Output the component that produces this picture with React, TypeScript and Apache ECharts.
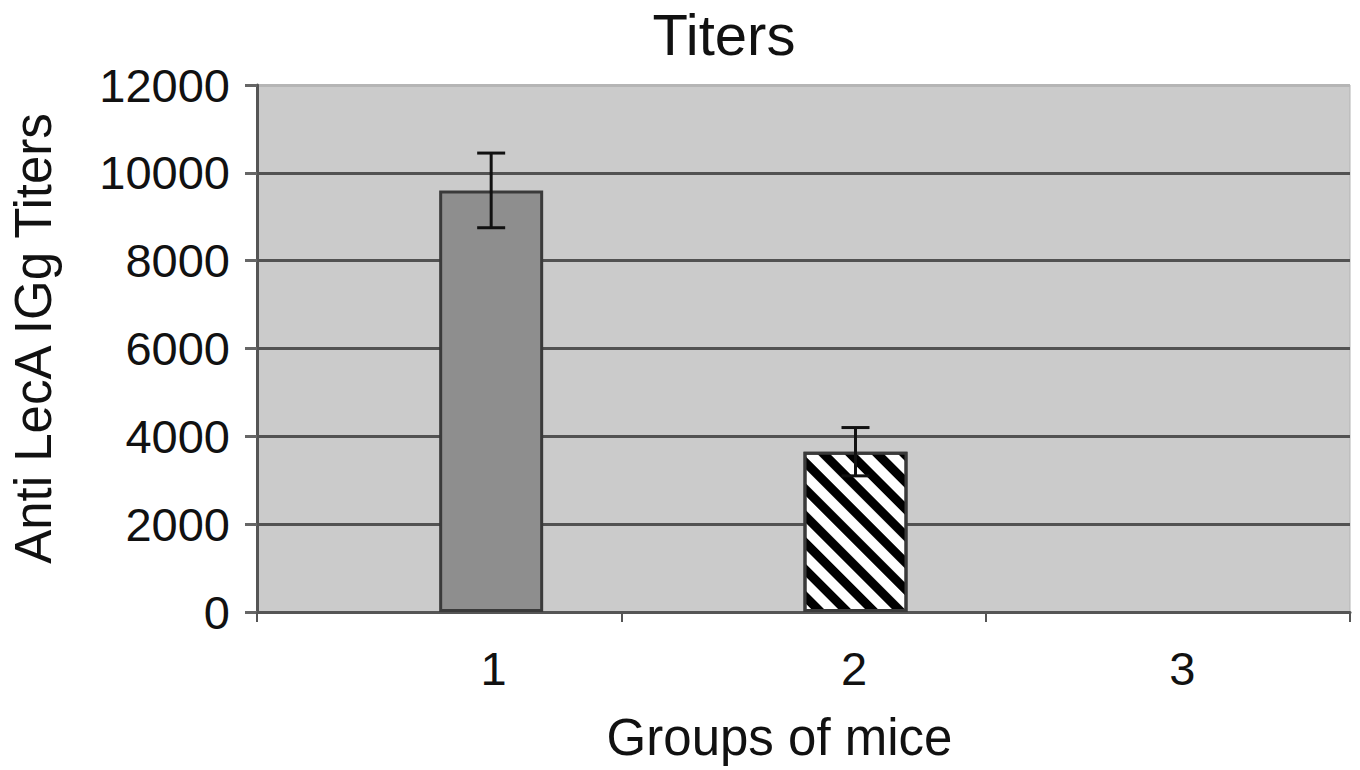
import React, { useEffect, useRef } from "react";
import * as echarts from "echarts";

const categories = ["1", "2", "3"];
const titerMeans: (number | null)[] = [9600, 3650, null];
const titerErrors: (number | null)[] = [850, 550, null];
const emptySlot: (number | null)[] = [null, null, null];
const yTicks = [0, 2000, 4000, 6000, 8000, 10000, 12000];

const FONT = "Liberation Sans";
const BAR_W = 104;

export default function App() {
  const ref = useRef<HTMLDivElement>(null);
  useEffect(() => {
    if (!ref.current) return;
    const chart = echarts.init(ref.current, undefined, { renderer: "svg" });

    const errData = titerMeans
      .map((m, i) => (m == null || titerErrors[i] == null ? null : [i, m - (titerErrors[i] as number), m + (titerErrors[i] as number)]))
      .filter((d) => d !== null);

    const barData = titerMeans.map((v, i) =>
      v == null
        ? null
        : i === 0
        ? { value: v, itemStyle: { color: "#8e8e8e" } }
        : {
            value: v,
            itemStyle: {
              color: "#ffffff",
              decal: {
                symbol: "rect",
                symbolSize: 1,
                color: "#000000",
                backgroundColor: "#ffffff",
                dashArrayX: [1, 0],
                dashArrayY: [9, 10],
                rotation: Math.PI / 4,
              },
            },
          }
    );

    const labelShift: Record<string, number> = { "1": 109, "2": 101, "3": 29 };

    chart.setOption({
      animation: false,
      backgroundColor: "#ffffff",
      title: {
        text: "Titers",
        left: 719,
        top: 0,
        textAlign: "center",
        textStyle: { fontFamily: FONT, fontSize: 58, fontWeight: "normal", color: "#111" },
      },
      grid: {
        left: 255,
        right: 10,
        top: 85,
        bottom: 158,
        show: true,
        backgroundColor: "#cbcbcb",
        borderColor: "#b3b3b3",
        borderWidth: 1,
      },
      xAxis: {
        type: "category",
        data: categories,
        name: "Groups of mice",
        nameLocation: "middle",
        nameGap: 100,
        nameTextStyle: { fontFamily: FONT, fontSize: 51, color: "#111", padding: [0, 48, 0, 0] },
        axisLine: { lineStyle: { color: "#555", width: 3 } },
        axisTick: { show: true, length: 10, lineStyle: { color: "#555", width: 2 } },
        axisLabel: {
          interval: 0,
          margin: 33,
          fontFamily: FONT,
          fontSize: 47,
          color: "#111",
          formatter: (v: string) => `{c${v}|${v}}`,
          rich: Object.fromEntries(
            categories.map((c) => [
              `c${c}`,
              { fontFamily: FONT, fontSize: 47, color: "#111", padding: [0, 0, 0, labelShift[c]] },
            ])
          ),
        },
        splitLine: { show: false },
      },
      yAxis: {
        type: "value",
        min: 0,
        max: 12000,
        interval: 2000,
        name: "Anti LecA IGg Titers",
        nameLocation: "middle",
        nameRotate: 90,
        nameGap: 198,
        nameTextStyle: { fontFamily: FONT, fontSize: 51, color: "#111", padding: [0, 0, 0, 20] },
        axisLine: { show: true, lineStyle: { color: "#555", width: 3 } },
        axisTick: { show: true, length: 12, lineStyle: { color: "#666", width: 3 } },
        axisLabel: {
          margin: 27,
          fontFamily: FONT,
          fontSize: 47,
          color: "#111",
          formatter: (v: number) => (yTicks.includes(v) ? String(v) : ""),
        },
        splitLine: {
          show: true,
          lineStyle: {
            color: ["#525252", "#525252", "#525252", "#525252", "#525252", "#525252", "#b5b5b5"],
            width: 3,
          },
        },
      },
      series: [
        {
          type: "bar",
          name: "slot",
          data: emptySlot,
          barWidth: BAR_W,
          barGap: "0%",
          itemStyle: { color: "#8e8e8e", borderColor: "#3a3a3a", borderWidth: 3 },
        },
        {
          type: "bar",
          name: "Titers",
          data: barData,
          barWidth: BAR_W,
          barGap: "0%",
          itemStyle: { borderColor: "#3a3a3a", borderWidth: 3 },
        },
        {
          type: "custom",
          name: "error",
          data: errData,
          z: 10,
          renderItem: (params: any, api: any) => {
            const i = api.value(0);
            const lo = api.coord([i, api.value(1)]);
            const hi = api.coord([i, api.value(2)]);
            const x = lo[0] + BAR_W / 2;
            const cap = 14;
            const style = { stroke: "#111", lineWidth: 3 };
            return {
              type: "group",
              children: [
                { type: "line", shape: { x1: x, y1: hi[1], x2: x, y2: lo[1] }, style },
                { type: "line", shape: { x1: x - cap, y1: hi[1], x2: x + cap, y2: hi[1] }, style },
                { type: "line", shape: { x1: x - cap, y1: lo[1], x2: x + cap, y2: lo[1] }, style },
              ],
            };
          },
        },
      ],
    });
    return () => chart.dispose();
  }, []);
  return <div ref={ref} style={{ position: "absolute", left: 0, top: 0, width: 1360, height: 770 }} />;
}
